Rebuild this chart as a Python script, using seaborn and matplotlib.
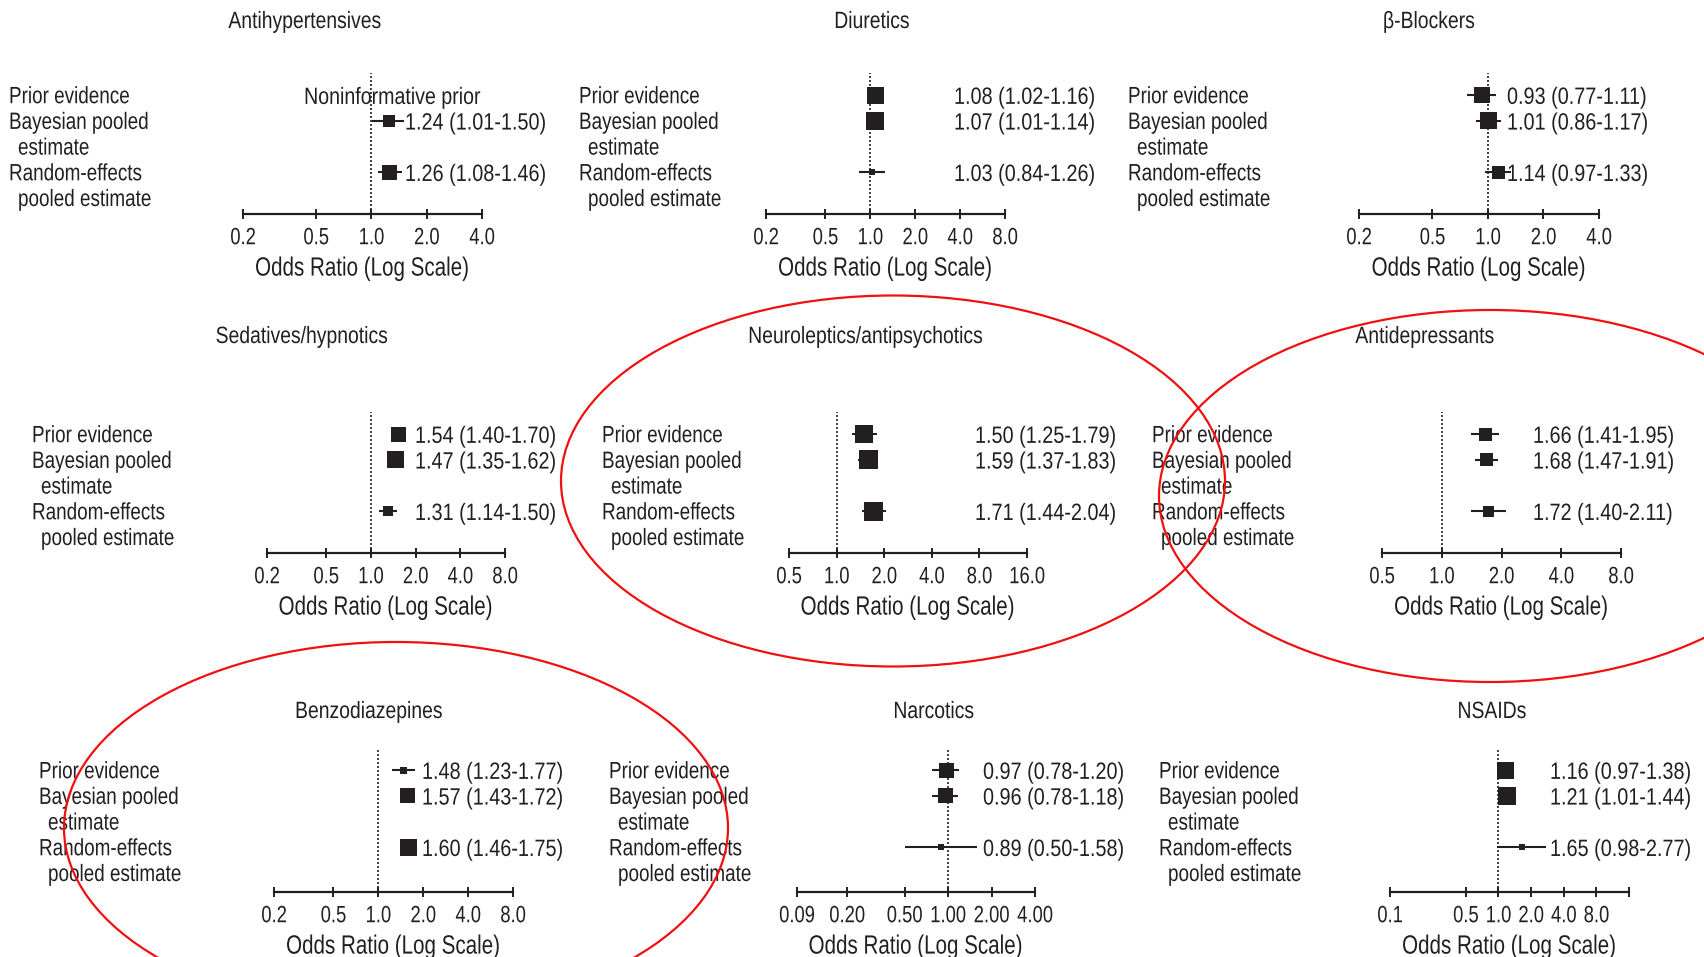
import numpy as np
import pandas as pd
import matplotlib
matplotlib.use("Agg")
import matplotlib.pyplot as plt
from matplotlib.patches import Ellipse
from matplotlib.patheffects import AbstractPathEffect
from matplotlib.transforms import Affine2D
from matplotlib.ticker import NullLocator
import seaborn as sns

# ---------------- data ----------------
drug_classes = ["Antihypertensives", "Diuretics", "β-Blockers",
                "Sedatives/hypnotics", "Neuroleptics/antipsychotics", "Antidepressants",
                "Benzodiazepines", "Narcotics", "NSAIDs"]

estimate_rows = [["Prior evidence"],
                 ["Bayesian pooled", "estimate"],
                 ["Random-effects", "pooled estimate"]]

# odds ratios with 95% intervals, one entry per drug class
or_prior = [np.nan, 1.08, 0.93, 1.54, 1.50, 1.66, 1.48, 0.97, 1.16]
lo_prior = [np.nan, 1.02, 0.77, 1.40, 1.25, 1.41, 1.23, 0.78, 0.97]
hi_prior = [np.nan, 1.16, 1.11, 1.70, 1.79, 1.95, 1.77, 1.20, 1.38]

or_bayes = [1.24, 1.07, 1.01, 1.47, 1.59, 1.68, 1.57, 0.96, 1.21]
lo_bayes = [1.01, 1.01, 0.86, 1.35, 1.37, 1.47, 1.43, 0.78, 1.01]
hi_bayes = [1.50, 1.14, 1.17, 1.62, 1.83, 1.91, 1.72, 1.18, 1.44]

or_random = [1.26, 1.03, 1.14, 1.31, 1.71, 1.72, 1.60, 0.89, 1.65]
lo_random = [1.08, 0.84, 0.97, 1.14, 1.44, 1.40, 1.46, 0.50, 0.98]
hi_random = [1.46, 1.26, 1.33, 1.50, 2.04, 2.11, 1.75, 1.58, 2.77]

axis_ticks = [
    [0.2, 0.5, 1.0, 2.0, 4.0],
    [0.2, 0.5, 1.0, 2.0, 4.0, 8.0],
    [0.2, 0.5, 1.0, 2.0, 4.0],
    [0.2, 0.5, 1.0, 2.0, 4.0, 8.0],
    [0.5, 1.0, 2.0, 4.0, 8.0, 16.0],
    [0.5, 1.0, 2.0, 4.0, 8.0],
    [0.2, 0.5, 1.0, 2.0, 4.0, 8.0],
    [0.09, 0.2, 0.5, 1.0, 2.0, 4.0],
    [0.1, 0.5, 1.0, 2.0, 4.0, 8.0, 16.0],
]
axis_tick_labels = [
    ["0.2", "0.5", "1.0", "2.0", "4.0"],
    ["0.2", "0.5", "1.0", "2.0", "4.0", "8.0"],
    ["0.2", "0.5", "1.0", "2.0", "4.0"],
    ["0.2", "0.5", "1.0", "2.0", "4.0", "8.0"],
    ["0.5", "1.0", "2.0", "4.0", "8.0", "16.0"],
    ["0.5", "1.0", "2.0", "4.0", "8.0"],
    ["0.2", "0.5", "1.0", "2.0", "4.0", "8.0"],
    ["0.09", "0.20", "0.50", "1.00", "2.00", "4.00"],
    ["0.1", "0.5", "1.0", "2.0", "4.0", "8.0", ""],
]
no_prior_note = "Noninformative prior"
axis_title = "Odds Ratio (Log Scale)"

# ---------------- layout (figure pixels, measured from the top-left) ----------------
W, H = 1704, 957
LINE = 25.7                      # text line pitch
axis_span = [(243, 482), (766, 1005), (1359, 1599),
             (267, 505), (789, 1027), (1382, 1621),
             (274, 513), (797, 1035), (1390, 1629)]
label_x = [9, 579, 1128, 32, 602, 1152, 39, 609, 1159]
value_x = [405, 954, 1507, 415, 975, 1533, 422, 983, 1550]
title_x = [305, 872, 1429, 302, 866, 1425, 369, 934, 1492]
row_first_y = [95, 434, 770]
row_axis_y = [214, 553, 892]
row_title_y = [20, 335, 710]
note_x = 393
marker_px = [[0, 12, 15], [17, 18, 6], [16, 17, 13],
             [15, 17, 10], [18, 19, 19], [13, 13, 11],
             [7, 15, 17], [15, 15, 6], [17, 18, 6]]
ellipses = [(893, 481, 664, 371), (1490, 496, 662, 372), (396, 828, 664, 372)]

INK = "#231f20"


class Tall(AbstractPathEffect):
    """Stretch glyphs vertically about mid cap height (a condensed look)."""

    def __init__(self, stretch, ymid=36.0):
        super().__init__()
        self.stretch = stretch
        self.ymid = ymid

    def draw_path(self, renderer, gc, tpath, affine, rgbFace=None):
        grow = (Affine2D().translate(0, -self.ymid)
                .scale(1, self.stretch).translate(0, self.ymid))
        renderer.draw_path(gc, tpath, grow + affine, rgbFace)


def condensed(size_pt, squeeze):
    """Font size and path effect giving a size_pt face squeezed in width."""
    return size_pt * squeeze, [Tall(1.0 / squeeze)]


# ---------------- style ----------------
sns.set_theme(style="white")
plt.rcParams["font.family"] = ["Liberation Sans", "DejaVu Sans"]
plt.rcParams["text.color"] = INK

LABEL_FS, LABEL_FX = condensed(17, 0.80)
NOTE_FS, NOTE_FX = condensed(17, 0.83)
VALUE_FS, VALUE_FX = condensed(17, 0.84)
TITLE_FS, TITLE_FX = condensed(17, 0.82)
TICK_FS, TICK_FX = condensed(17, 0.78)
XLAB_FS, XLAB_FX = condensed(19, 0.78)

fig = plt.figure(figsize=(W / 100, H / 100), dpi=100)
fig.patch.set_facecolor("white")

# vertical positions of the three estimate rows, in text lines
line_counts = [len(r) for r in estimate_rows]
row_pos = np.concatenate([[0], np.cumsum(line_counts[:-1])]).astype(float)
TOP = -0.85

for i, name in enumerate(drug_classes):
    r = i // 3
    x0, x1 = axis_span[i]
    first_y, axis_y = row_first_y[r], row_axis_y[r]
    bottom_lines = (axis_y - first_y) / LINE
    ax_h = (bottom_lines - TOP) * LINE
    ax = fig.add_axes([x0 / W, 1 - axis_y / H, (x1 - x0) / W, ax_h / H])
    ax.set_facecolor("none")
    ax.set_xscale("log", base=2)

    df = pd.DataFrame({
        "odds": [or_prior[i], or_bayes[i], or_random[i]],
        "lo": [lo_prior[i], lo_bayes[i], lo_random[i]],
        "hi": [hi_prior[i], hi_bayes[i], hi_random[i]],
        "pos": row_pos,
        "side": marker_px[i],
    })
    shown = df.dropna().reset_index(drop=True)

    ax.axvline(1.0, color=INK, lw=1.2, ls=(0, (1.2, 1.2)), zorder=1)
    ax.hlines(shown["pos"], shown["lo"], shown["hi"], color=INK, lw=1.5, zorder=2)
    area = (shown["side"].to_numpy() * 72 / 100) ** 2
    sns.scatterplot(data=shown, x="odds", y="pos", marker="s", s=area,
                    color=INK, edgecolor=INK, linewidth=0, legend=False,
                    ax=ax, zorder=3)

    ax.set_xlim(axis_ticks[i][0], axis_ticks[i][-1])
    ax.set_ylim(bottom_lines, TOP)
    ax.set_xticks(axis_ticks[i])
    ax.set_xticklabels(axis_tick_labels[i])
    ax.xaxis.set_minor_locator(NullLocator())
    ax.set_yticks([])
    for s in ("left", "right", "top"):
        ax.spines[s].set_visible(False)
    ax.spines["bottom"].set_linewidth(1.6)
    ax.spines["bottom"].set_color(INK)
    ax.tick_params(axis="x", which="major", bottom=True, direction="inout",
                   length=7.5, width=1.4, pad=7.3, labelsize=TICK_FS, colors=INK)
    for t in ax.xaxis.get_major_ticks():
        t.label1.set_path_effects(TICK_FX)
    ax.set_xlabel(axis_title, fontsize=XLAB_FS, color=INK, va="center")
    ax.xaxis.label.set_path_effects(XLAB_FX)
    ax.xaxis.set_label_coords(0.5, -54 / ax_h)
    ax.set_ylabel("")

    # estimate names on the left
    for pos, lines in zip(row_pos, estimate_rows):
        for k, txt in enumerate(lines):
            ax.annotate(txt, xy=(label_x[i] + (9 if k else 0), pos + k),
                        xycoords=("figure pixels", "data"),
                        ha="left", va="center_baseline", fontsize=LABEL_FS,
                        color=INK, annotation_clip=False, path_effects=LABEL_FX)

    # numeric estimates on the right
    for _, row in df.iterrows():
        if np.isnan(row["odds"]):
            ax.annotate(no_prior_note, xy=(note_x, row["pos"]),
                        xycoords=("figure pixels", "data"),
                        ha="center", va="center_baseline", fontsize=NOTE_FS,
                        color=INK, annotation_clip=False, path_effects=NOTE_FX)
            continue
        txt = f"{row['odds']:.2f} ({row['lo']:.2f}-{row['hi']:.2f})"
        ax.annotate(txt, xy=(value_x[i], row["pos"]),
                    xycoords=("figure pixels", "data"),
                    ha="left", va="center_baseline", fontsize=VALUE_FS,
                    color=INK, annotation_clip=False, path_effects=VALUE_FX)

    fig.text(title_x[i] / W, 1 - row_title_y[r] / H, name, ha="center",
             va="center_baseline", fontsize=TITLE_FS, color=INK,
             path_effects=TITLE_FX)

# red highlight rings
for cx, cy, w, h in ellipses:
    fig.add_artist(Ellipse((cx / W, 1 - cy / H), w / W, h / H,
                           transform=fig.transFigure, fill=False,
                           edgecolor="#f01010", lw=1.6, zorder=10))

fig.savefig("out.png", dpi=100, facecolor="white")
